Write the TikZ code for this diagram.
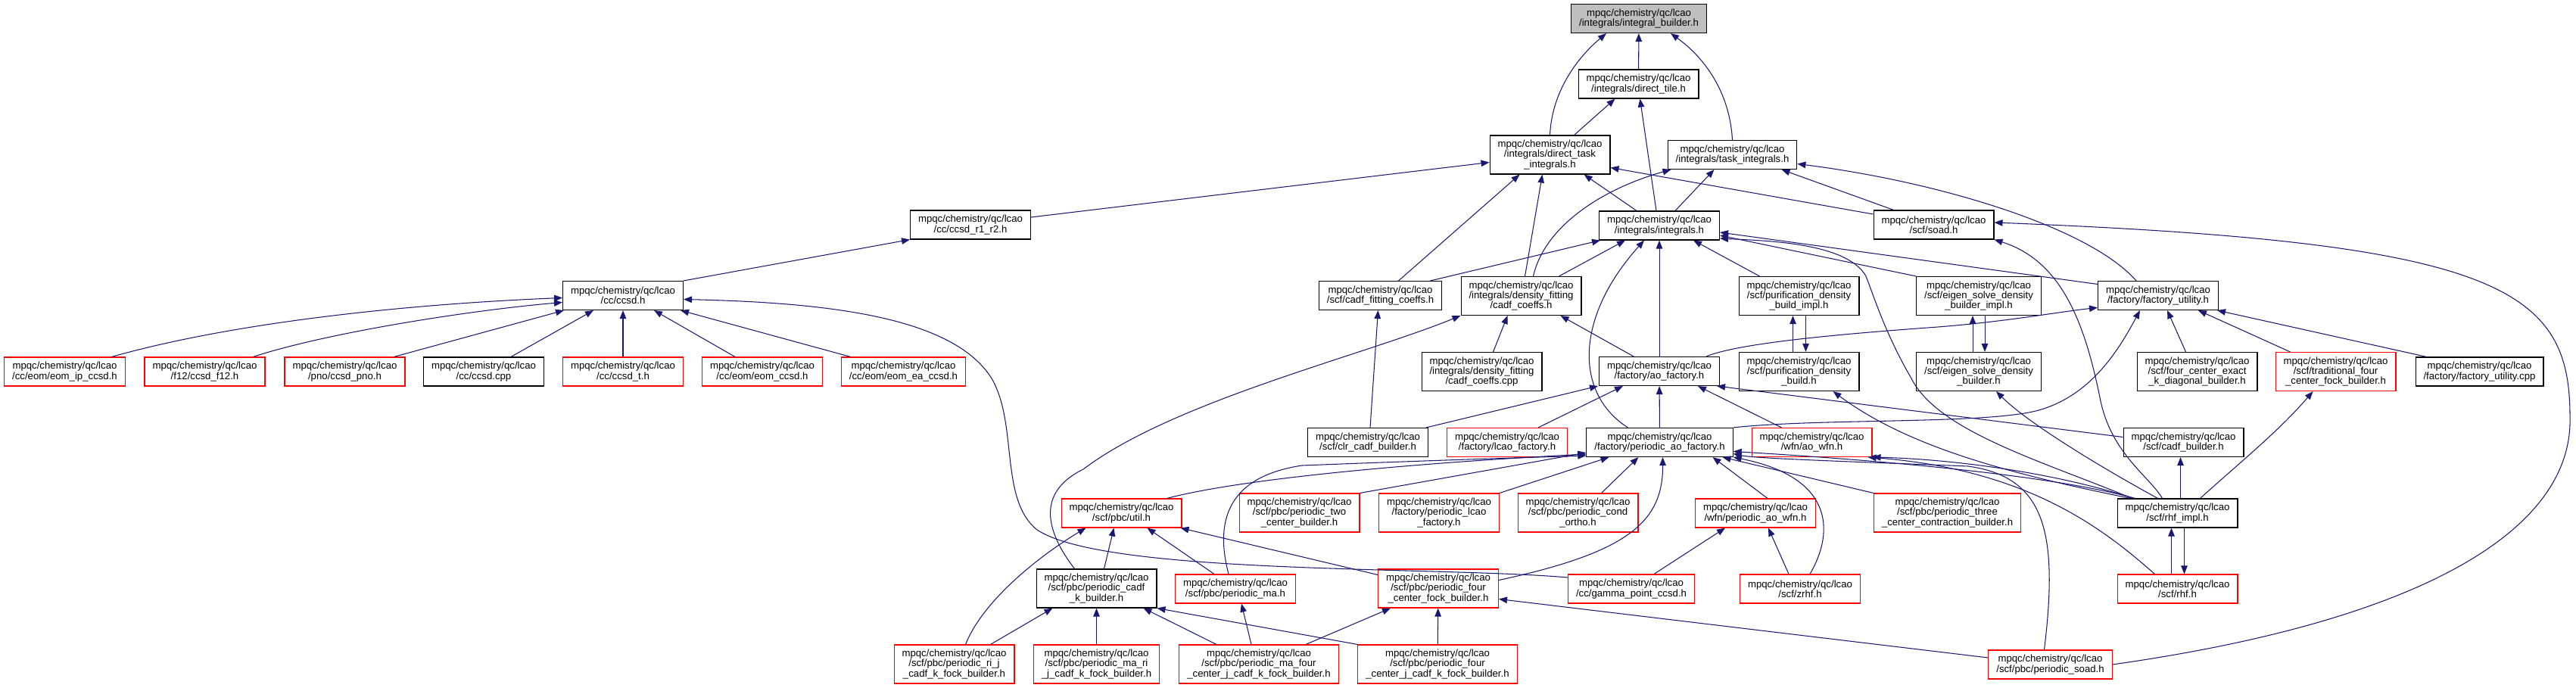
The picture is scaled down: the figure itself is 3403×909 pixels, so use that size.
\documentclass[tikz,border=0pt]{standalone}
\usepackage{fontspec}
\setmainfont{Liberation Sans}
\usepackage{tikz}
\usetikzlibrary{arrows.meta}
\definecolor{edgeblue}{HTML}{191970}
\definecolor{rootgray}{HTML}{BFBFBF}
\definecolor{linkred}{HTML}{FF0000}
\newcommand{\dotfont}{\fontsize{13.2}{13.3}\selectfont}
\tikzset{
    hfile/.style={draw=black, fill=white, line width=1.1pt, align=center, font=\dotfont,
                  inner xsep=10.5pt, inner ysep=2pt, minimum height=38pt},
    tall/.style={minimum height=51pt},
    redfile/.style={hfile, draw=linkred},
    rootfile/.style={hfile, fill=rootgray},
    inc/.style={-{Triangle[length=11pt, width=8.5pt]}, line width=1.05pt, edgeblue}
}
\begin{document}
\begin{tikzpicture}[x=1pt, y=-1pt]
    \useasboundingbox (0,0) rectangle (3403,909);
    \node[rootfile] (ib) at (2165,24.5) {mpqc/chemistry/qc/lcao\\/integrals/integral\_builder.h};
    \node[hfile] (dtile) at (2164.5,111) {mpqc/chemistry/qc/lcao\\/integrals/direct\_tile.h};
    \node[hfile, tall] (dtask) at (2047.5,204.5) {mpqc/chemistry/qc/lcao\\/integrals/direct\_task\\\_integrals.h};
    \node[hfile] (task) at (2288.5,204.5) {mpqc/chemistry/qc/lcao\\/integrals/task\_integrals.h};
    \node[hfile] (ints) at (2192,298) {mpqc/chemistry/qc/lcao\\/integrals/integrals.h};
    \node[hfile] (soad) at (2554.5,297) {mpqc/chemistry/qc/lcao\\/scf/soad.h};
    \node[hfile] (r1r2) at (1282,297) {mpqc/chemistry/qc/lcao\\/cc/ccsd\_r1\_r2.h};
    \node[hfile] (ccsd) at (823,390.5) {mpqc/chemistry/qc/lcao\\/cc/ccsd.h};
    \node[hfile] (cfc) at (1823.5,390.5) {mpqc/chemistry/qc/lcao\\/scf/cadf\_fitting\_coeffs.h};
    \node[hfile, tall] (dfh) at (2009.5,391) {mpqc/chemistry/qc/lcao\\/integrals/density\_fitting\\/cadf\_coeffs.h};
    \node[hfile, tall] (pdbi) at (2376.5,391) {mpqc/chemistry/qc/lcao\\/scf/purification\_density\\\_build\_impl.h};
    \node[hfile, tall] (esdbi) at (2614,391) {mpqc/chemistry/qc/lcao\\/scf/eigen\_solve\_density\\\_builder\_impl.h};
    \node[hfile] (fu) at (2851,390.5) {mpqc/chemistry/qc/lcao\\/factory/factory\_utility.h};
    \node[redfile] (eomip) at (85.5,491) {mpqc/chemistry/qc/lcao\\/cc/eom/eom\_ip\_ccsd.h};
    \node[redfile] (f12) at (270.5,491) {mpqc/chemistry/qc/lcao\\/f12/ccsd\_f12.h};
    \node[redfile] (pno) at (455.5,491) {mpqc/chemistry/qc/lcao\\/pno/ccsd\_pno.h};
    \node[hfile] (ccsdcpp) at (639,491) {mpqc/chemistry/qc/lcao\\/cc/ccsd.cpp};
    \node[redfile] (ccsdt) at (823,491) {mpqc/chemistry/qc/lcao\\/cc/ccsd\_t.h};
    \node[redfile] (eom) at (1007,491) {mpqc/chemistry/qc/lcao\\/cc/eom/eom\_ccsd.h};
    \node[redfile] (eomea) at (1193.5,491) {mpqc/chemistry/qc/lcao\\/cc/eom/eom\_ea\_ccsd.h};
    \node[hfile, tall] (dfcpp) at (1957.5,491) {mpqc/chemistry/qc/lcao\\/integrals/density\_fitting\\/cadf\_coeffs.cpp};
    \node[hfile] (aof) at (2192,490.5) {mpqc/chemistry/qc/lcao\\/factory/ao\_factory.h};
    \node[hfile, tall] (pdb) at (2376.5,491) {mpqc/chemistry/qc/lcao\\/scf/purification\_density\\\_build.h};
    \node[hfile, tall] (esdb) at (2614,491) {mpqc/chemistry/qc/lcao\\/scf/eigen\_solve\_density\\\_builder.h};
    \node[hfile, tall] (fcek) at (2902.5,491) {mpqc/chemistry/qc/lcao\\/scf/four\_center\_exact\\\_k\_diagonal\_builder.h};
    \node[redfile, tall] (tfc) at (3085.5,491) {mpqc/chemistry/qc/lcao\\/scf/traditional\_four\\\_center\_fock\_builder.h};
    \node[hfile] (fucpp) at (3275.5,491) {mpqc/chemistry/qc/lcao\\/factory/factory\_utility.cpp};
    \node[hfile] (clr) at (1807,584.5) {mpqc/chemistry/qc/lcao\\/scf/clr\_cadf\_builder.h};
    \node[redfile] (lcaof) at (1991,584.5) {mpqc/chemistry/qc/lcao\\/factory/lcao\_factory.h};
    \node[hfile] (paof) at (2192.5,584.5) {mpqc/chemistry/qc/lcao\\/factory/periodic\_ao\_factory.h};
    \node[redfile] (aowfn) at (2393.5,584.5) {mpqc/chemistry/qc/lcao\\/wfn/ao\_wfn.h};
    \node[hfile] (cadfb) at (2884.5,584.5) {mpqc/chemistry/qc/lcao\\/scf/cadf\_builder.h};
    \node[redfile] (util) at (1481.5,678) {mpqc/chemistry/qc/lcao\\/scf/pbc/util.h};
    \node[redfile, tall] (ptwo) at (1716.5,677.5) {mpqc/chemistry/qc/lcao\\/scf/pbc/periodic\_two\\\_center\_builder.h};
    \node[redfile, tall] (plcao) at (1901,677.5) {mpqc/chemistry/qc/lcao\\/factory/periodic\_lcao\\\_factory.h};
    \node[redfile, tall] (pco) at (2084.5,677.5) {mpqc/chemistry/qc/lcao\\/scf/pbc/periodic\_cond\\\_ortho.h};
    \node[redfile] (paowfn) at (2319,678) {mpqc/chemistry/qc/lcao\\/wfn/periodic\_ao\_wfn.h};
    \node[redfile, tall] (pthree) at (2572.5,677.5) {mpqc/chemistry/qc/lcao\\/scf/pbc/periodic\_three\\\_center\_contraction\_builder.h};
    \node[hfile] (rhfi) at (2876.5,678) {mpqc/chemistry/qc/lcao\\/scf/rhf\_impl.h};
    \node[hfile, tall] (pcadfk) at (1448.5,777.5) {mpqc/chemistry/qc/lcao\\/scf/pbc/periodic\_cadf\\\_k\_builder.h};
    \node[redfile] (pma) at (1632,778) {mpqc/chemistry/qc/lcao\\/scf/pbc/periodic\_ma.h};
    \node[redfile, tall] (pfour) at (1900,777.5) {mpqc/chemistry/qc/lcao\\/scf/pbc/periodic\_four\\\_center\_fock\_builder.h};
    \node[redfile] (gpccsd) at (2155,778) {mpqc/chemistry/qc/lcao\\/cc/gamma\_point\_ccsd.h};
    \node[redfile] (zrhf) at (2378,778) {mpqc/chemistry/qc/lcao\\/scf/zrhf.h};
    \node[redfile] (rhf) at (2876.5,778) {mpqc/chemistry/qc/lcao\\/scf/rhf.h};
    \node[redfile, tall] (prij) at (1260.5,877.5) {mpqc/chemistry/qc/lcao\\/scf/pbc/periodic\_ri\_j\\\_cadf\_k\_fock\_builder.h};
    \node[redfile, tall] (pmarij) at (1448.5,877.5) {mpqc/chemistry/qc/lcao\\/scf/pbc/periodic\_ma\_ri\\\_j\_cadf\_k\_fock\_builder.h};
    \node[redfile, tall] (pmafour) at (1663,877.5) {mpqc/chemistry/qc/lcao\\/scf/pbc/periodic\_ma\_four\\\_center\_j\_cadf\_k\_fock\_builder.h};
    \node[redfile, tall] (pfourj) at (1899,877.5) {mpqc/chemistry/qc/lcao\\/scf/pbc/periodic\_four\\\_center\_j\_cadf\_k\_fock\_builder.h};
    \node[redfile] (psoad) at (2708.5,878) {mpqc/chemistry/qc/lcao\\/scf/pbc/periodic\_soad.h};
    \draw[inc] (dtile) -- (ib);
    \draw[inc] (dtask.north) .. controls (2050,120) and (2085,75) .. ([xshift=-43pt]ib.south);
    \draw[inc] (task.north) .. controls (2285,120) and (2250,75) .. ([xshift=42pt]ib.south);
    \draw[inc] ([xshift=32pt]dtask.north) -- ([xshift=-31pt]dtile.south);
    \draw[inc] ([xshift=-4pt]ints.north) -- ([xshift=2pt]dtile.south);
    \draw[inc] ([xshift=-30pt]ints.north) -- ([xshift=45pt]dtask.south);
    \draw[inc] ([xshift=21pt]ints.north) -- ([xshift=-24pt]task.south);
    \draw[inc] ([yshift=10pt]r1r2.east) -- ([yshift=-10pt]dtask.west);
    \draw[inc] ([yshift=14pt]soad.west) -- ([yshift=-17pt]dtask.east);
    \draw[inc] ([xshift=-53pt]soad.north) -- ([xshift=65pt]task.south);
    \draw[inc] ([xshift=-29pt]fu.north) .. controls (2760,300) and (2560,240) .. ([yshift=-12pt]task.east);
    \draw[inc] ([xshift=5pt]dfh.north) -- ([xshift=-10pt]dtask.south);
    \draw[inc] ([xshift=16pt]dfh.north) .. controls (2040,300) and (2115,250) .. ([xshift=-81pt]task.south);
    \draw[inc] ([xshift=50pt]dfh.north) -- ([xshift=-45pt]ints.south);
    \draw[inc] ([xshift=24pt]cfc.north) -- ([xshift=-40pt]dtask.south);
    \draw[inc] ([xshift=66pt]cfc.north) -- ([xshift=-78pt]ints.south);
    \draw[inc] (ccsd.north east) -- (r1r2.south west);
    \draw[inc] ([xshift=62pt]eomip.north) .. controls (330,420) and (580,400) .. ([yshift=-3pt]ccsd.west);
    \draw[inc] ([xshift=64pt]f12.north) .. controls (430,440) and (620,410) .. ([yshift=-9pt]ccsd.west);
    \draw[inc] ([xshift=65pt]pno.north) -- ([xshift=-78pt]ccsd.south);
    \draw[inc] ([xshift=36pt]ccsdcpp.north) -- ([xshift=-39pt]ccsd.south);
    \draw[inc] (ccsdt) -- (ccsd);
    \draw[inc] ([xshift=-36pt]eom.north) -- ([xshift=41pt]ccsd.south);
    \draw[inc] ([xshift=-70pt]eomea.north) -- ([xshift=76pt]ccsd.south);
    \draw[inc] ([yshift=15pt]gpccsd.west) .. controls (1900,748) and (1460,760) .. (1370,700)
        .. controls (1320,660) and (1345,560) .. (1310,500) .. controls (1260,420) and (1100,400) .. ([yshift=-5pt]ccsd.east);
    \draw[inc] ([xshift=3pt]clr.north) -- ([xshift=-3pt]cfc.south);
    \draw[inc] ([xshift=-3pt]clr.north east) -- ([xshift=-81pt]aof.south);
    \draw[inc] ([xshift=15pt]dfcpp.north) -- ([xshift=-18pt]dfh.south);
    \draw[inc] ([xshift=-34pt]aof.north) -- ([xshift=52pt]dfh.south);
    \draw[inc] (aof) -- (ints);
    \draw[inc] ([xshift=62pt]aof.north) .. controls (2300,452) and (2450,440) .. (2560,432)
        .. controls (2650,425) and (2720,412) .. ([yshift=-16pt]fu.west);
    \draw[inc] ([xshift=-42pt]paof.north) .. controls (2080,520) and (2080,420) .. ([xshift=-20pt]ints.south);
    \draw[inc] (paof) -- (aof);
    \draw[inc] (paof.north east) .. controls (2400,553) and (2600,560) .. (2680,545)
        .. controls (2760,530) and (2800,460) .. ([xshift=-24pt]fu.south);
    \draw[inc] ([xshift=41pt]lcaof.north) -- ([xshift=-48pt]aof.south);
    \draw[inc] ([xshift=-40pt]aowfn.north) -- ([xshift=51pt]aof.south);
    \draw[inc] ([yshift=7pt]cadfb.west) -- ([xshift=76pt]aof.south);
    \draw[inc] ([xshift=-15pt]fcek.north) -- ([xshift=12pt]fu.south);
    \draw[inc] ([xshift=-60pt]tfc.north) -- ([xshift=53pt]fu.south);
    \draw[inc] ([xshift=-70pt]fucpp.north) -- ([xshift=-2pt]fu.south east);
    \draw[inc] ([xshift=-52pt]pdbi.north) -- ([xshift=45pt]ints.south);
    \draw[inc] ([xshift=-8pt]pdb.north) -- ([xshift=-8pt]pdbi.south);
    \draw[inc] ([xshift=9pt]pdbi.south) -- ([xshift=9pt]pdb.north);
    \draw[inc] ([yshift=15pt]fu.west) -- ([yshift=-9pt]ints.east);
    \draw[inc] (esdbi.north west) -- ([yshift=-13pt]ints.east);
    \draw[inc] ([xshift=-8pt]esdb.north) -- ([xshift=-8pt]esdbi.south);
    \draw[inc] ([xshift=8pt]esdbi.south) -- ([xshift=8pt]esdb.north);
    \draw[inc] ([xshift=-60pt]rhfi.north) .. controls (2700,610) and (2560,570) .. (2525,500)
        .. controls (2490,440) and (2475,390) .. (2465,365) .. controls (2440,320) and (2330,318) .. ([yshift=-17pt]ints.east);
    \draw[inc] ([xshift=-62pt]rhfi.north) .. controls (2650,625) and (2520,590) .. ([xshift=45pt]pdb.south);
    \draw[inc] ([xshift=-26pt]rhfi.north) .. controls (2780,620) and (2680,560) .. ([xshift=23pt]esdb.south);
    \draw[inc] ([xshift=-20pt]rhfi.north) .. controls (2840,630) and (2790,600) .. (2775,530)
        .. controls (2755,430) and (2725,345) .. ([xshift=80pt]soad.south);
    \draw[inc] ([xshift=4pt]rhfi.north) -- ([xshift=-4pt]cadfb.south);
    \draw[inc] ([xshift=30pt]rhfi.north) .. controls (2960,610) and (3010,570) .. ([xshift=-30pt]tfc.south);
    \draw[inc] ([xshift=-8pt]rhf.north) -- ([xshift=-8pt]rhfi.south);
    \draw[inc] ([xshift=9pt]rhfi.south) -- ([xshift=9pt]rhf.north);
    \draw[inc] ([xshift=-58pt]rhfi.north) .. controls (2700,620) and (2560,606) .. (aowfn.south east);
    \draw[inc] ([xshift=-56pt]rhfi.north) .. controls (2700,625) and (2450,606) .. ([yshift=-12pt]paof.east);
    \draw[inc] ([xshift=-30pt]rhf.north) .. controls (2780,700) and (2680,620) .. ([xshift=-6pt]aowfn.south east);
    \draw[inc] ([xshift=-8pt]psoad.north) .. controls (2720,700) and (2700,630) .. (2600,616)
        .. controls (2450,610) and (2320,606) .. ([yshift=-15pt]paof.east);
    \draw[inc] (psoad.east) .. controls (3200,820) and (3400,700) .. (3395,550)
        .. controls (3395,380) and (3300,320) .. ([yshift=3pt]soad.east);
    \draw[inc] ([yshift=9pt]psoad.west) -- ([yshift=-14pt]pfour.east);
    \draw[inc] (pthree.north west) -- ([xshift=83pt]paof.south);
    \draw[inc] ([xshift=13pt]zrhf.north) .. controls (2425,700) and (2420,630) .. (paof.south east);
    \draw[inc] ([xshift=-15pt]zrhf.north) -- ([xshift=17pt]paowfn.south);
    \draw[inc] ([xshift=30pt]gpccsd.north) -- ([xshift=-40pt]paowfn.south);
    \draw[inc] ([xshift=16pt]paowfn.north) -- ([xshift=70pt]paof.south);
    \draw[inc] ([xshift=31pt]pco.north) -- ([xshift=-28pt]paof.south);
    \draw[inc] (plcao.north east) -- ([xshift=-67pt]paof.south);
    \draw[inc] (ptwo.north east) -- ([yshift=6pt]paof.south west);
    \draw[inc] ([xshift=60pt]util.north) .. controls (1650,630) and (1900,610) .. ([yshift=4pt]paof.south west);
    \draw[inc] ([xshift=-9pt]pma.north) .. controls (1605,690) and (1620,630) .. (1720,615)
        .. controls (1900,608) and (2000,605) .. ([yshift=2pt]paof.south west);
    \draw[inc] ([yshift=11pt]pfour.east) .. controls (2150,730) and (2197,690) .. ([xshift=4pt]paof.south);
    \draw[inc] ([yshift=-8pt]pfour.north west) -- ([xshift=-2pt]util.south east);
    \draw[inc] ([xshift=10pt]pcadfk.north) -- ([xshift=-10pt]util.south);
    \draw[inc] ([xshift=-28pt]pma.north) -- ([xshift=34pt]util.south);
    \draw[inc] ([xshift=15pt]prij.north) .. controls (1300,790) and (1380,730) .. ([xshift=-47pt]util.south);
    \draw[inc] ([xshift=48pt]prij.north) -- ([xshift=-58pt]pcadfk.south);
    \draw[inc] (pmarij) -- (pcadfk);
    \draw[inc] ([xshift=-56pt]pmafour.north) -- ([xshift=62pt]pcadfk.south);
    \draw[inc] ([xshift=-10pt]pmafour.north) -- ([xshift=8pt]pma.south);
    \draw[inc] ([xshift=62pt]pmafour.north) -- ([xshift=-63pt]pfour.south);
    \draw[inc] (pfourj.north west) -- (pcadfk.south east);
    \draw[inc] (pfourj) -- (pfour);
    \draw[inc] ([xshift=-29pt]pcadfk.north) .. controls (1380,700) and (1370,650) .. (1431,620)
        .. controls (1550,530) and (1800,470) .. (dfh.south west);
\end{tikzpicture}
\end{document}
